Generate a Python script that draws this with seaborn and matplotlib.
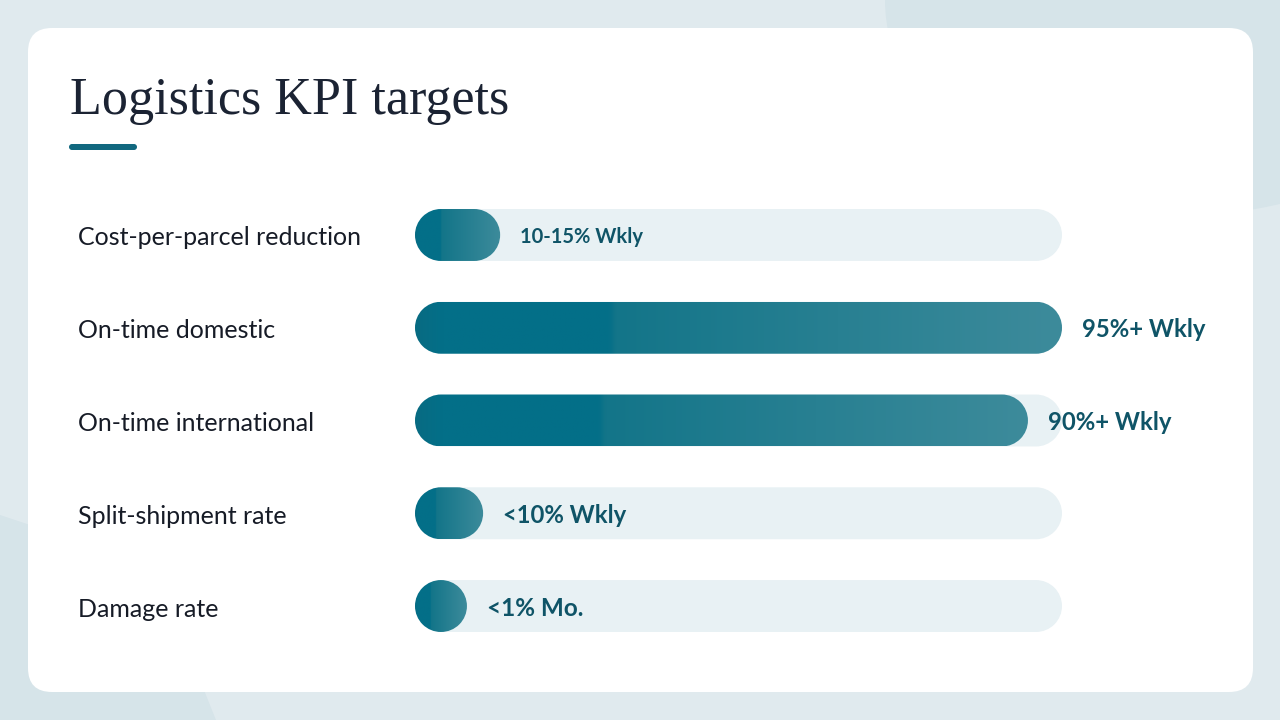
import numpy as np
import pandas as pd
import matplotlib
matplotlib.use("Agg")
import matplotlib.pyplot as plt
import seaborn as sns
from matplotlib.patches import FancyBboxPatch, Ellipse, Polygon, PathPatch
from matplotlib.path import Path
from matplotlib.colors import LinearSegmentedColormap

# data
kpis = ["Cost-per-parcel reduction", "On-time domestic", "On-time international",
        "Split-shipment rate", "Damage rate"]
targets = [12.5, 95, 90, 10, 1]
target_labels = ["10-15% Wkly", "95%+ Wkly", "90%+ Wkly", "<10% Wkly", "<1% Mo."]
scale_max = 95

df = pd.DataFrame({"kpi": kpis, "target": targets, "track": [scale_max] * len(kpis)})

sns.set_theme(style="white")
plt.rcParams["font.family"] = ["Lato", "DejaVu Sans"]


def pill_path(x, top, w, h):
    # capsule made of two true semicircles
    r = h / 2
    cy = top + r
    right = Path.arc(-90, 90)
    left = Path.arc(90, 270)
    rv = right.vertices * r + [x + w - r, cy]
    lv = left.vertices * r + [x + r, cy]
    verts = np.vstack([rv, lv, rv[:1]])
    codes = np.concatenate([right.codes, left.codes, [Path.CLOSEPOLY]])
    codes[len(right.codes)] = Path.LINETO
    return Path(verts, codes)


fig = plt.figure(figsize=(12.8, 7.2), dpi=100)
fig.patch.set_facecolor("#e0eaee")

# background layer in pixel coords (top-left origin)
bg = fig.add_axes([0, 0, 1, 1])
bg.set_xlim(0, 1280)
bg.set_ylim(720, 0)
bg.axis("off")
bg.add_patch(Ellipse((1185, 0), 600, 430, facecolor="#d6e4e9", edgecolor="none", zorder=0))
bg.add_patch(Polygon([(0, 515), (60, 535), (200, 680), (216, 720), (0, 720)],
                     closed=True, facecolor="#d6e4e9", edgecolor="none", zorder=0))
bg.add_patch(FancyBboxPatch((28, 28), 1225, 664, boxstyle="round,pad=0,rounding_size=24",
                            facecolor="white", edgecolor="none", zorder=1))
bg.text(70, 114, "Logistics KPI targets", family=["Liberation Serif", "DejaVu Serif"],
        fontsize=37.5, color="#1b2333", va="baseline", ha="left", zorder=3)
bg.add_patch(PathPatch(pill_path(69, 144, 68, 6), facecolor="#11687f",
                       edgecolor="none", zorder=3))

# bar axes: x in data units, categories on y
top_px, bot_px = 188.6, 652.4
ax = fig.add_axes([415 / 1280, (720 - bot_px) / 720, 647 / 1280, (bot_px - top_px) / 720])
ax.patch.set_alpha(0)
sns.barplot(data=df, x="track", y="kpi", color="#e8f1f4", width=0.56, ax=ax, zorder=2)
sns.barplot(data=df, x="target", y="kpi", color="#0c6f87", width=0.56, ax=ax, zorder=3)
ax.set_xlim(0, scale_max)
ax.set_ylim(len(kpis) - 0.5, -0.5)
ax.axis("off")

grad = LinearSegmentedColormap.from_list("teal", [
    (0.0, "#086b82"), (0.04, "#036f88"), (0.30, "#046f88"),
    (0.31, "#137589"), (1.0, "#3d8b9b")])
gvals = np.linspace(0, 1, 256).reshape(1, -1)

to_px = ax.transData + bg.transData.inverted()
n = len(kpis)
bars = list(ax.patches)
tracks, fills = bars[:n], bars[n:]

value_sizes = [14.5, 17.2, 17.2, 17.2, 17.5]

for i, (trk, fil) in enumerate(zip(tracks, fills)):
    for p, is_fill in ((trk, False), (fil, True)):
        x0, y0 = p.get_x(), p.get_y()
        x1, y1 = x0 + p.get_width(), y0 + p.get_height()
        (px0, py0), (px1, py1) = to_px.transform([(x0, y0), (x1, y1)])
        top, bot = min(py0, py1), max(py0, py1)
        h = bot - top
        w = max(px1 - px0, h)
        p.set_visible(False)
        pill = PathPatch(pill_path(px0, top, w, h),
                         facecolor="#e8f1f4" if not is_fill else "none",
                         edgecolor="none", zorder=4 if not is_fill else 5)
        bg.add_patch(pill)
        if is_fill:
            im = bg.imshow(gvals, cmap=grad, extent=[px0, px0 + w, bot, top],
                           aspect="auto", interpolation="bilinear", zorder=5)
            im.set_clip_path(pill)
            cy = (top + bot) / 2 + 2
            bg.text(px0 + w + 20, cy, target_labels[i], fontsize=value_sizes[i],
                    fontweight="bold", color="#0f5467", va="center", ha="left", zorder=6)
            bg.text(78, cy + 1, kpis[i], fontsize=18, color="#161b26",
                    va="center", ha="left", zorder=6)

bg.set_xlim(0, 1280)
bg.set_ylim(720, 0)

fig.savefig("out.png", dpi=100, facecolor=fig.get_facecolor())
